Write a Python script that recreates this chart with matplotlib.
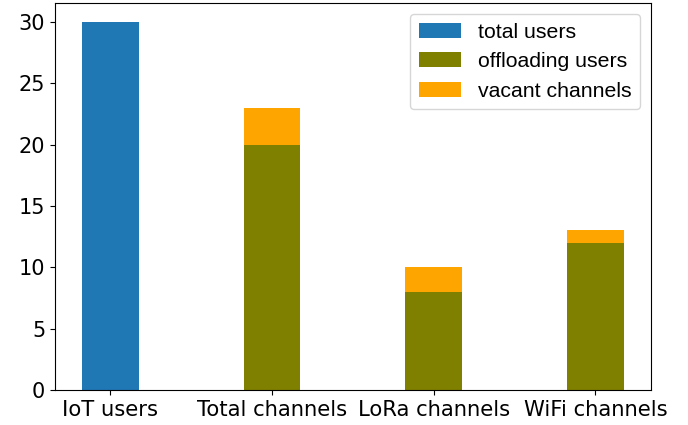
import matplotlib
matplotlib.use("Agg")
import matplotlib.pyplot as plt
import numpy as np

categories = ["IoT users", "Total channels", "LoRa channels", "WiFi channels"]
total_users = [30, 0, 0, 0]
offloading_users = [0, 20, 8, 12]
vacant_channels = [0, 3, 2, 1]

fig, ax = plt.subplots(figsize=(6.88, 4.25), dpi=100)
x = np.arange(len(categories))
w = 0.35
ax.bar(x[:1], total_users[:1], w, color="#1f77b4", label="total users")
ax.bar(x[1:], offloading_users[1:], w, color="olive", label="offloading users")
ax.bar(x[1:], vacant_channels[1:], w, bottom=offloading_users[1:], color="orange", label="vacant channels")
ax.set_xticks(x)
ax.set_xticklabels(categories, fontsize=15.2)
ax.tick_params(axis="y", labelsize=15)
ax.legend(prop={"family": "Liberation Sans", "size": 15.3}, loc="upper right",
          handlelength=2.0, borderaxespad=0.5)
fig.subplots_adjust(left=0.080, right=0.946, top=0.992, bottom=0.0824)
fig.savefig("out.png", dpi=100)
